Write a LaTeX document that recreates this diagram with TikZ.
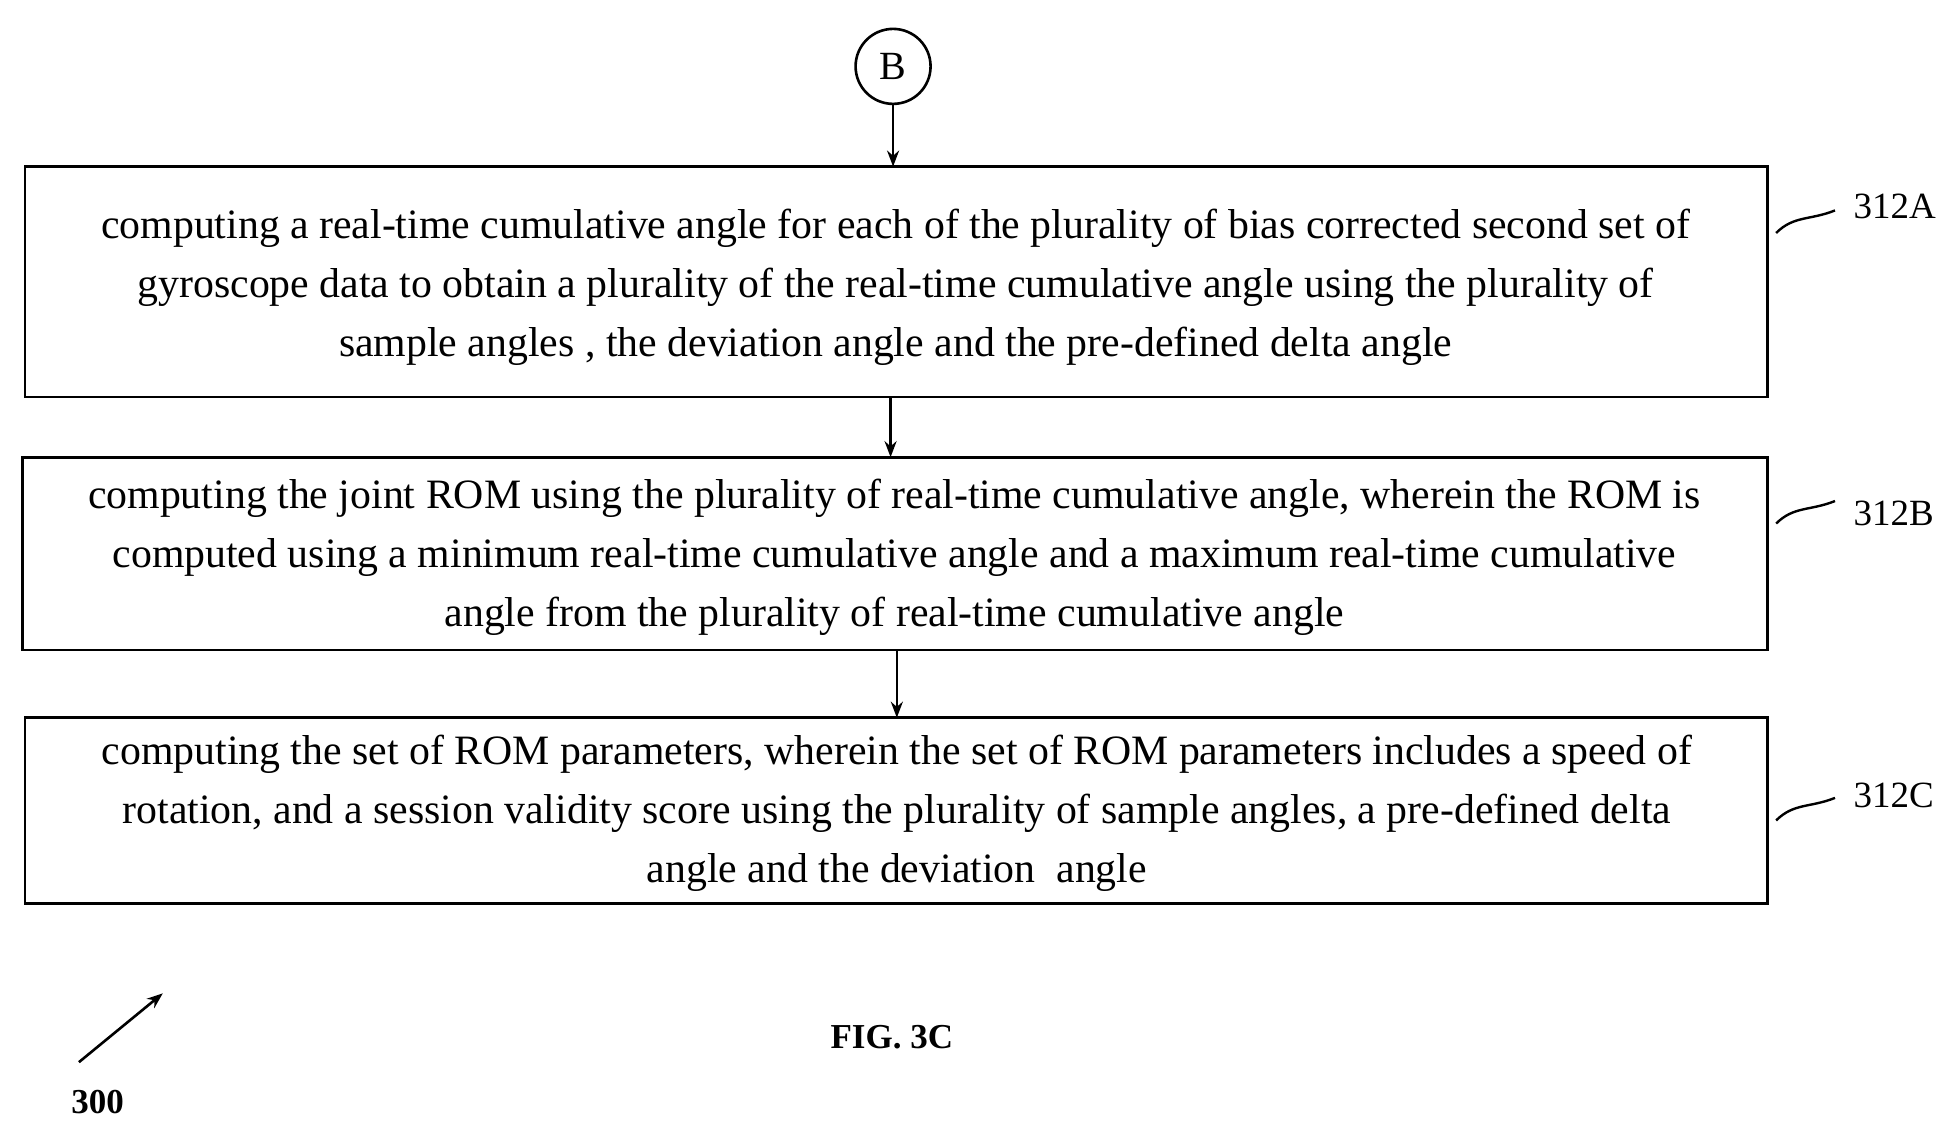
\documentclass[tikz,border=0pt]{standalone}
\usepackage{fontspec}
\setmainfont{Liberation Serif}
\usetikzlibrary{arrows.meta}
\begin{document}
\begin{tikzpicture}[x=1.2526pt,y=-1.2526pt,
  stepbox/.style={draw,line width=2.8pt,inner sep=0pt},
  txt/.style={align=center,font=\fontsize{41.8pt}{59pt}\selectfont},
  arr/.style={-{Stealth[length=16pt,width=12pt]},line width=2.6pt},
  lbl/.style={font=\fontsize{37pt}{40pt}\selectfont,anchor=west},
  sq/.style={line width=2.4pt}]
\useasboundingbox (0,0) rectangle (1560,904);
\node[draw,circle,line width=2.6pt,minimum size=75pt,inner sep=0pt,font=\fontsize{40pt}{40pt}\selectfont] (b) at (713,53) {B};
\draw[stepbox] (20,133) rectangle (1411,317);
\draw[stepbox] (18,365) rectangle (1411,519);
\draw[stepbox] (20,573) rectangle (1411,721);
\node[txt] at (715,229) {computing a real-time cumulative angle for each of the plurality of bias corrected second set of\\gyroscope data to obtain a plurality of the real-time cumulative angle using the plurality of\\sample angles , the deviation angle and the pre-defined delta angle};
\node[txt] at (714,445) {computing the joint ROM using the plurality of real-time cumulative angle, wherein the ROM is\\computed using a minimum real-time cumulative angle and a maximum real-time cumulative\\angle from the plurality of real-time cumulative angle};
\node[txt] at (716,649) {computing the set of ROM parameters, wherein the set of ROM parameters includes a speed of\\rotation, and a session validity score using the plurality of sample angles, a pre-defined delta\\angle and the deviation~ angle};
\coordinate (aT) at (713,133);
\draw[arr] (b.south) -- (aT);
\draw[arr] (711,317) -- (711,365);
\draw[arr] (716,519) -- (716,573);
\coordinate (la) at (1418,186);
\coordinate (lb) at (1418,418);
\coordinate (lc) at (1418,655);
\draw[sq] (la) .. controls (1432,172) and (1445,176) .. (1465,168);
\draw[sq] (lb) .. controls (1432,404) and (1445,408) .. (1465,400);
\draw[sq] (lc) .. controls (1432,641) and (1445,645) .. (1465,637);
\node[lbl] at (1477,165) {312A};
\node[lbl] at (1477,410) {312B};
\node[lbl] at (1477,635) {312C};
\node[font=\bfseries\fontsize{35pt}{40pt}\selectfont] at (712,828) {FIG. 3C};
\node[font=\bfseries\fontsize{35pt}{40pt}\selectfont] (n300) at (78,880) {300};
\coordinate (t300) at (130,793);
\draw[arr] (63,848) -- (t300);
\end{tikzpicture}
\end{document}
